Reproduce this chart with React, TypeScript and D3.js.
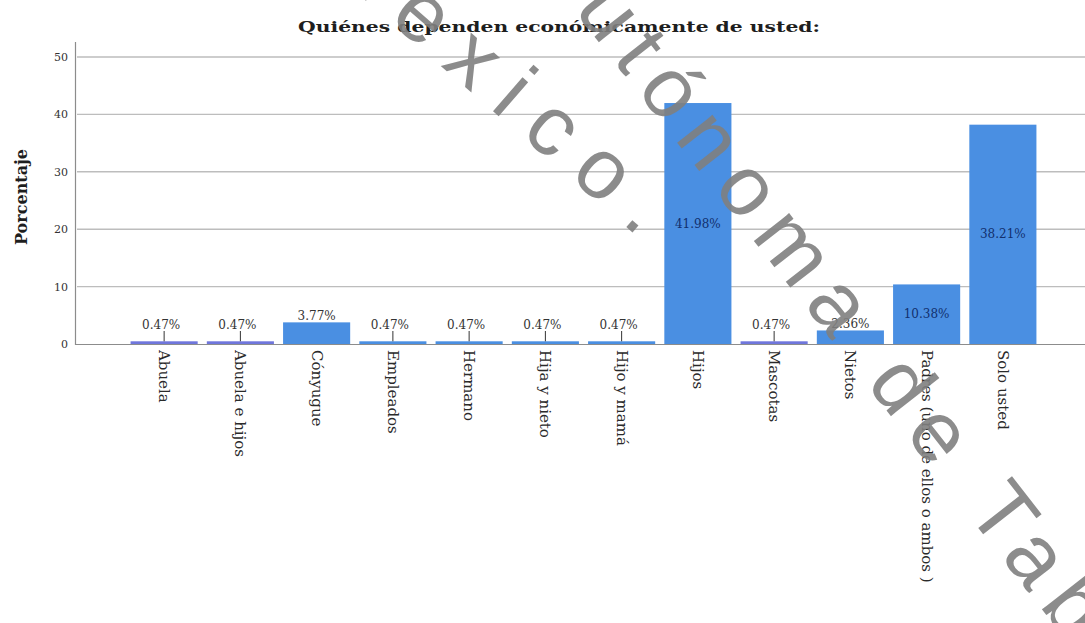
import React from "react";
import * as d3 from "d3";

const categories = [
  "Abuela",
  "Abuela e hijos",
  "Cónyugue",
  "Empleados",
  "Hermano",
  "Hija y nieto",
  "Hijo y mamá",
  "Hijos",
  "Mascotas",
  "Nietos",
  "Padres (uno de ellos o ambos )",
  "Solo usted",
];

const percentages = [0.47, 0.47, 3.77, 0.47, 0.47, 0.47, 0.47, 41.98, 0.47, 2.36, 10.38, 38.21];

const yTicks = [0, 10, 20, 30, 40, 50];

const title = "Quiénes dependen económicamente de usted:";
const yTitle = "Porcentaje";

const W = 1085;
const H = 623;

export default function App() {
  const x = d3
    .scaleBand<string>()
    .domain(categories)
    .range([126, 1041])
    .paddingInner(0.12)
    .paddingOuter(0.06);
  const y = d3.scaleLinear().domain([0, 50]).range([344, 57]);

  const serif = "'DejaVu Serif', serif";
  const barColor = "#4a8fe2";
  const thinBarColor: Record<string, string> = {
    Abuela: "#6f76dc",
    "Abuela e hijos": "#6f76dc",
    Mascotas: "#6f76dc",
  };

  return (
    <svg
      width={W}
      height={H}
      style={{ position: "absolute", left: 0, top: 0, background: "#fff" }}
    >
      <rect x={0} y={0} width={W} height={H} fill="#fff" />

      {/* title */}
      <text
        x={559}
        y={32}
        textAnchor="middle"
        fontFamily={serif}
        fontWeight="bold"
        fontSize={15}
        fill="#1e1e1e"
        textLength={522}
        lengthAdjust="spacingAndGlyphs"
      >
        {title}
      </text>

      {/* gridlines */}
      {yTicks
        .filter((t) => t > 0)
        .map((t) => (
          <line
            key={`g${t}`}
            x1={77}
            x2={W}
            y1={y(t)}
            y2={y(t)}
            stroke="#bdbdbd"
            strokeWidth={1.4}
          />
        ))}

      {/* y axis */}
      <line x1={75.5} x2={75.5} y1={42} y2={345} stroke="#8c8c8c" strokeWidth={1.2} />
      {yTicks.map((t) => (
        <text
          key={`t${t}`}
          x={68}
          y={y(t) + 4}
          textAnchor="end"
          fontFamily={serif}
          fontSize={11}
          fill="#333"
        >
          {t}
        </text>
      ))}
      <text
        transform={`translate(27,197) rotate(-90)`}
        textAnchor="middle"
        fontFamily={serif}
        fontWeight="bold"
        fontSize={16}
        fill="#1e1e1e"
      >
        {yTitle}
      </text>

      {/* bars */}
      {categories.map((c, i) => {
        const v = percentages[i];
        const bx = x(c) as number;
        const bw = x.bandwidth();
        const top = y(v);
        return (
          <rect
            key={`b${c}`}
            x={bx}
            y={top}
            width={bw}
            height={y(0) - top}
            fill={thinBarColor[c] ?? barColor}
          />
        );
      })}

      {/* x axis */}
      <line x1={75} x2={W} y1={344.5} y2={344.5} stroke="#8c8c8c" strokeWidth={1.2} />

      {/* value labels */}
      {categories.map((c, i) => {
        const v = percentages[i];
        const cx = (x(c) as number) + x.bandwidth() / 2;
        const label = `${v.toFixed(2)}%`;
        if (v > 5) {
          return (
            <text
              key={`l${c}`}
              x={cx}
              y={(y(v) + y(0)) / 2 + 4}
              textAnchor="middle"
              fontFamily={serif}
              fontSize={12}
              fill="#12306e"
            >
              {label}
            </text>
          );
        }
        if (v < 1) {
          return (
            <g key={`l${c}`}>
              <line x1={cx} x2={cx} y1={331} y2={y(v)} stroke="#333" strokeWidth={1} />
              <text
                x={cx - 3}
                y={329}
                textAnchor="middle"
                fontFamily={serif}
                fontSize={12}
                fill="#333"
              >
                {label}
              </text>
            </g>
          );
        }
        return (
          <text
            key={`l${c}`}
            x={cx}
            y={y(v) - 2}
            textAnchor="middle"
            fontFamily={serif}
            fontSize={12}
            fill="#333"
          >
            {label}
          </text>
        );
      })}

      {/* category labels */}
      {categories.map((c) => {
        const cx = (x(c) as number) + x.bandwidth() / 2;
        return (
          <text
            key={`c${c}`}
            transform={`translate(${cx - 5},350) rotate(90)`}
            textAnchor="start"
            fontFamily={serif}
            fontSize={15}
            fill="#2a2a2a"
          >
            {c}
          </text>
        );
      })}

      {/* watermark */}
      <g
        fontFamily="'Liberation Sans', Arial, sans-serif"
        fontSize={85}
        fill="#808080"
        fillOpacity={0.9}
      >
        <text
          transform="translate(655,252) rotate(41)"
          textAnchor="end"
          letterSpacing={22}
        >
          México.
        </text>
        <text
          transform="translate(529,-47) rotate(52)"
          textAnchor="start"
          letterSpacing={15}
        >
          Autónoma de Tabasco
        </text>
      </g>
    </svg>
  );
}
